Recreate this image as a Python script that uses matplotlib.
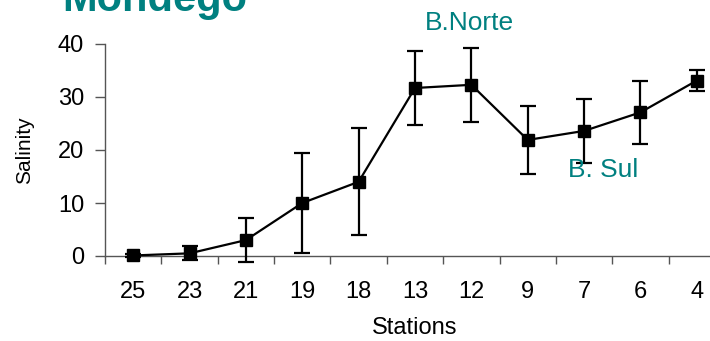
import numpy as np
import matplotlib
matplotlib.use('Agg')
import matplotlib.pyplot as plt

plt.rcParams['font.family'] = ['Liberation Sans', 'DejaVu Sans']

# 数据
stations = ['25', '23', '21', '19', '18', '13', '12', '9', '7', '6', '4']
salinity = [0.1, 0.5, 3.0, 10.0, 14.0, 31.7, 32.3, 21.9, 23.6, 27.1, 33.1]
errors = [0.2, 1.3, 4.1, 9.5, 10.1, 7.0, 7.0, 6.4, 6.1, 6.0, 1.9]

teal = '#008080'
grey = '#555555'

fig = plt.figure(figsize=(7.1, 3.41), dpi=100)
ax = fig.add_axes([105 / 710, 1 - 256 / 341, 620 / 710, 212 / 341])

x = np.arange(len(stations))
ax.errorbar(x, salinity, yerr=errors, color='black', marker='s', markersize=9,
            linewidth=1.6, elinewidth=1.6, capsize=6, capthick=1.6, clip_on=False, zorder=3)

ax.set_xlim(-0.5, len(stations) - 0.5)
ax.set_ylim(0, 40)
ax.set_yticks([0, 10, 20, 30, 40])

# 类别刻度放在两类之间
ax.set_xticks(x)
ax.set_xticklabels(stations)
ax.set_xticks(np.arange(-0.5, len(stations)), minor=True)
ax.tick_params(axis='x', which='major', length=0, pad=18, labelsize=17)
ax.tick_params(axis='x', which='minor', length=6, width=1, color=grey, direction='out')
ax.tick_params(axis='y', length=7, width=1, color=grey, pad=8, labelsize=17)

for side in ['top', 'right']:
    ax.spines[side].set_visible(False)
for side in ['left', 'bottom']:
    ax.spines[side].set_color(grey)
    ax.spines[side].set_linewidth(1)

ax.set_xlabel('Stations', fontsize=17)
ax.xaxis.set_label_coords(0.5, -0.29)
ax.set_ylabel('Salinity', fontsize=15, labelpad=17)

fig.text(62 / 710, 1 - 11 / 341, 'Mondego', color=teal, fontsize=30,
         fontweight='bold', va='baseline', ha='left')
fig.text(425 / 710, 1 - 30 / 341, 'B.Norte', color=teal, fontsize=19,
         va='baseline', ha='left')
fig.text(568 / 710, 1 - 177 / 341, 'B. Sul', color=teal, fontsize=19,
         va='baseline', ha='left')

fig.savefig('out.png', dpi=100)
